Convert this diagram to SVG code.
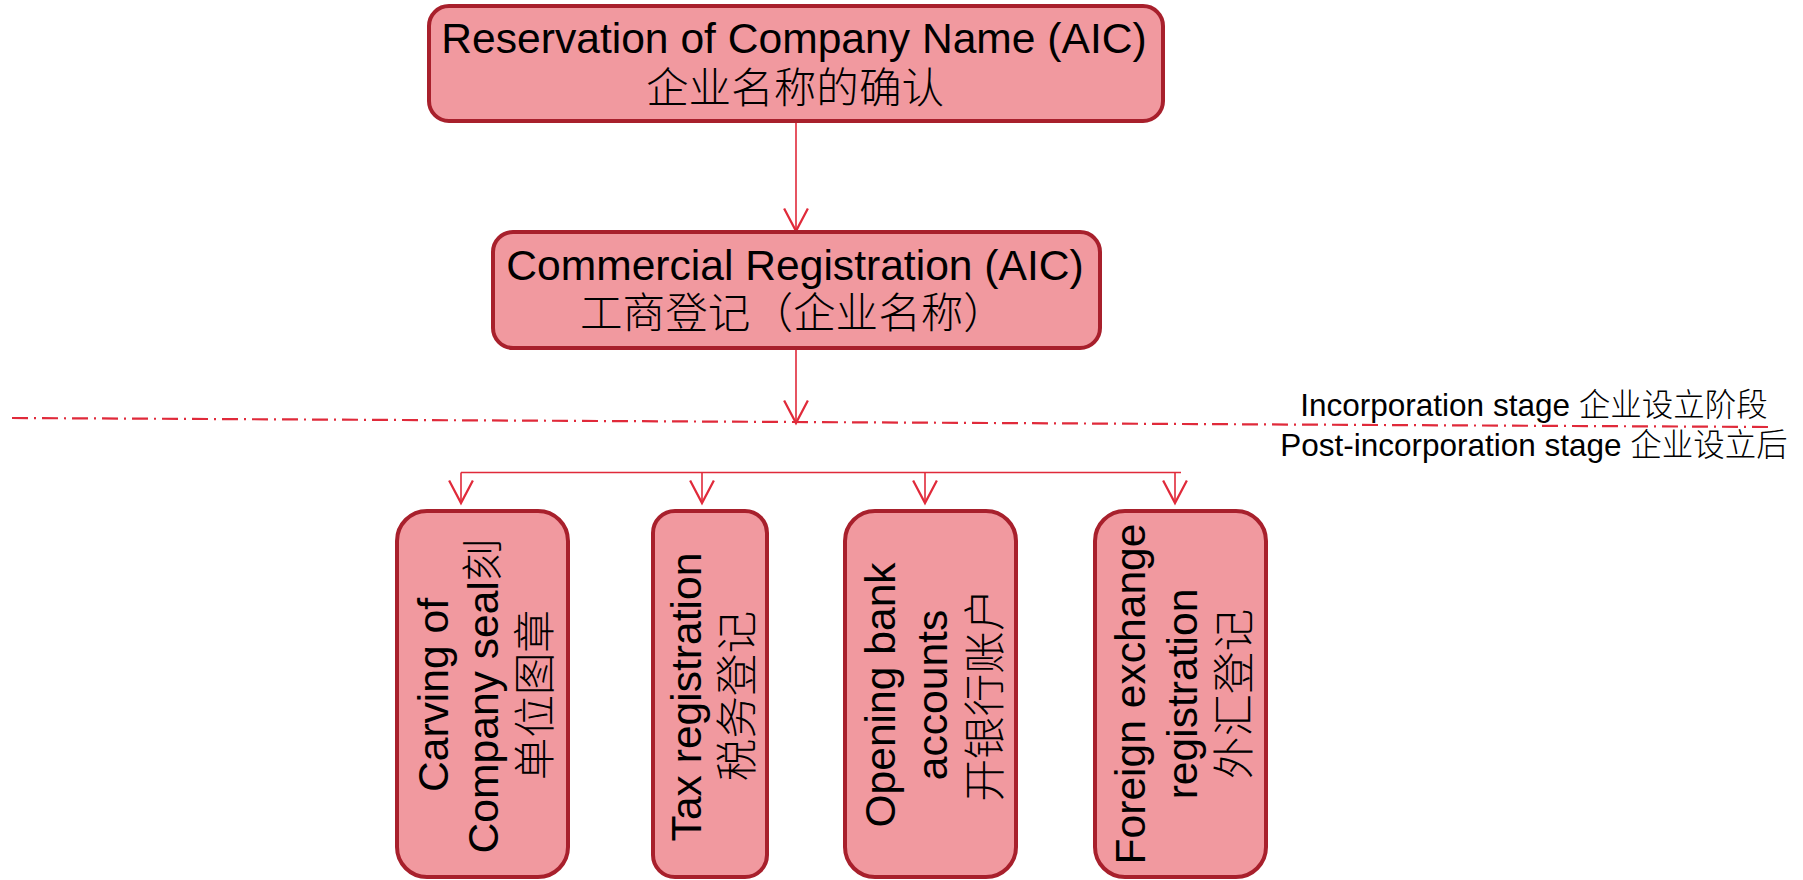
<svg xmlns="http://www.w3.org/2000/svg" width="1803" height="880" viewBox="0 0 1803 880">
<style>
.box{fill:#f1999f;stroke:#a8202c;stroke-width:4}
.t{font-family:"Liberation Sans","Noto Sans CJK SC",Arial,sans-serif;font-size:42.6px;fill:#000;text-anchor:middle}
.lbl{font-family:"Liberation Sans","Noto Sans CJK SC",Arial,sans-serif;font-size:31.5px;fill:#000;text-anchor:middle}
.cjk{font-family:"Noto Sans CJK SC",sans-serif;font-weight:300}
.con{fill:none;stroke:#e02a3a;stroke-width:1.6}
.sep{fill:none;stroke:#e02a3a;stroke-width:2.2;stroke-dasharray:16 6 2 6}
</style>
<defs>
<marker id="arr" markerUnits="userSpaceOnUse" markerWidth="30" markerHeight="30" viewBox="-20 -12 22 24" refX="0" refY="0" orient="auto" overflow="visible">
<path d="M-18,-9.5 L0,0 L-18,9.5" fill="none" stroke="#e02a3a" stroke-width="1.8"/>
</marker>
</defs>
<g id="connectors">
<line class="con" x1="796" y1="123" x2="796" y2="231" marker-end="url(#arr)"/>
<line class="con" x1="796" y1="350" x2="796" y2="423" marker-end="url(#arr)"/>
<line class="sep" x1="12" y1="418" x2="1771" y2="427"/>
<line class="con" x1="461" y1="472.5" x2="1181" y2="472.5"/>
<line class="con" x1="461" y1="472.5" x2="461" y2="503" marker-end="url(#arr)"/>
<line class="con" x1="702" y1="472.5" x2="702" y2="503" marker-end="url(#arr)"/>
<line class="con" x1="925" y1="472.5" x2="925" y2="503" marker-end="url(#arr)"/>
<line class="con" x1="1175" y1="472.5" x2="1175" y2="503" marker-end="url(#arr)"/>
</g>
<g id="stage-labels">
<text class="lbl" x="1534" y="416">Incorporation stage <tspan class="cjk">企业设立阶段</tspan></text>
<text class="lbl" x="1534" y="456">Post-incorporation stage <tspan class="cjk">企业设立后</tspan></text>
</g>
<g id="node-reservation">
<rect class="box" x="429" y="6" width="734" height="115" rx="20"/>
<text class="t" x="794" y="53">Reservation of Company Name (AIC)</text>
<text class="t cjk" x="795" y="103">企业名称的确认</text>
</g>
<g id="node-commercial">
<rect class="box" x="493" y="232" width="607" height="116" rx="20"/>
<text class="t" x="795" y="280">Commercial Registration (AIC)</text>
<text class="t cjk" x="793" y="328">工商登记（企业名称）</text>
</g>
<g id="node-seal">
<rect class="box" x="397" y="511" width="171" height="366" rx="30"/>
<text class="t" transform="translate(448,695) rotate(-90)">Carving of</text>
<text class="t" transform="translate(498,696) rotate(-90)">Company seal<tspan class="cjk">刻</tspan></text>
<text class="t cjk" transform="translate(550,695) rotate(-90)">单位图章</text>
</g>
<g id="node-tax">
<rect class="box" x="653" y="511" width="114" height="366" rx="22"/>
<text class="t" transform="translate(701,697) rotate(-90)">Tax registration</text>
<text class="t cjk" transform="translate(752,696) rotate(-90)">税务登记</text>
</g>
<g id="node-bank">
<rect class="box" x="845" y="511" width="171" height="366" rx="30"/>
<text class="t" transform="translate(895,695) rotate(-90)">Opening bank</text>
<text class="t" transform="translate(947,695) rotate(-90)">accounts</text>
<text class="t cjk" transform="translate(1000,695) rotate(-90)">开银行账户</text>
</g>
<g id="node-forex">
<rect class="box" x="1095" y="511" width="171" height="366" rx="30"/>
<text class="t" transform="translate(1145,694) rotate(-90)">Foreign exchange</text>
<text class="t" transform="translate(1197,694) rotate(-90)">registration</text>
<text class="t cjk" transform="translate(1249,694) rotate(-90)">外汇登记</text>
</g>
</svg>
